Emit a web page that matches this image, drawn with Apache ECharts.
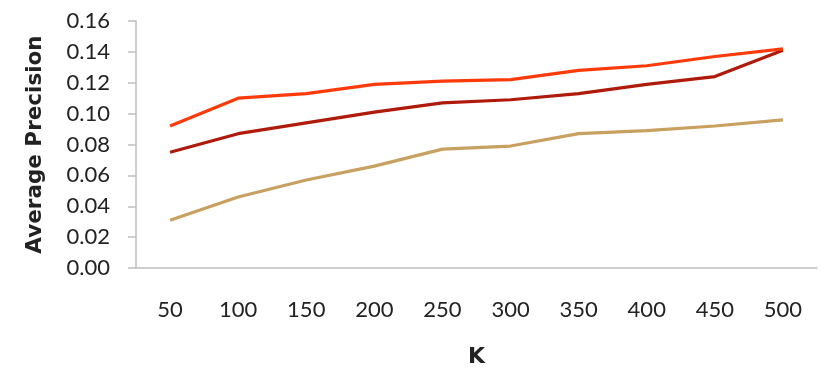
<!DOCTYPE html>
<html>
<head>
<meta charset="utf-8">
<script src="https://cdn.jsdelivr.net/npm/echarts@6/dist/echarts.min.js"></script>
<style>
html, body { margin: 0; padding: 0; background: #fff; }
#chart { width: 825px; height: 371px; }
</style>
</head>
<body>
<div id="chart"></div>
<script>
var kValues = ['50', '100', '150', '200', '250', '300', '350', '400', '450', '500'];
var seriesTop = [0.092, 0.110, 0.113, 0.119, 0.121, 0.122, 0.128, 0.131, 0.137, 0.142];
var seriesMid = [0.075, 0.087, 0.094, 0.101, 0.107, 0.109, 0.113, 0.119, 0.124, 0.141];
var seriesLow = [0.031, 0.046, 0.057, 0.066, 0.077, 0.079, 0.087, 0.089, 0.092, 0.096];

var chart = echarts.init(document.getElementById('chart'));

function line(data, color) {
    return {
        type: 'line',
        data: data,
        symbol: 'none',
        lineStyle: { color: color, width: 3.2 },
        itemStyle: { color: color }
    };
}

var option = {
    animation: false,
    textStyle: { fontFamily: 'Lato, "DejaVu Sans", sans-serif' },
    grid: { left: 136, right: 8, top: 21, bottom: 103, outerBoundsMode: 'none', containLabel: false },
    xAxis: {
        type: 'category',
        data: kValues,
        name: 'K',
        nameLocation: 'middle',
        nameGap: 78,
        nameTextStyle: { fontSize: 22, fontWeight: 'bold', color: '#222', fontFamily: '"DejaVu Sans", sans-serif' },
        axisLine: { lineStyle: { color: '#bfbfbf', width: 1.5 } },
        axisTick: { length: 8, lineStyle: { color: '#bfbfbf', width: 1.5 } },
        axisLabel: { fontSize: 22, color: '#222', margin: 31 },
        splitLine: { show: false }
    },
    yAxis: {
        type: 'value',
        min: 0,
        max: 0.16,
        interval: 0.02,
        name: 'Average Precision',
        nameLocation: 'middle',
        nameGap: 90,
        nameTextStyle: { fontSize: 21.5, fontWeight: 'bold', color: '#222', fontFamily: '"DejaVu Sans", sans-serif' },
        axisLine: { show: true, lineStyle: { color: '#bfbfbf', width: 1.5 } },
        axisTick: { show: true, length: 8, lineStyle: { color: '#bfbfbf', width: 1.5 } },
        axisLabel: {
            fontSize: 22, color: '#222', margin: 26,
            formatter: function (v) { return v.toFixed(2); }
        },
        splitLine: { show: false }
    },
    series: [
        line(seriesLow, '#c8a060'),
        line(seriesMid, '#b01a0a'),
        line(seriesTop, '#ff3a0a')
    ]
};
chart.setOption(option);
</script>
</body>
</html>
